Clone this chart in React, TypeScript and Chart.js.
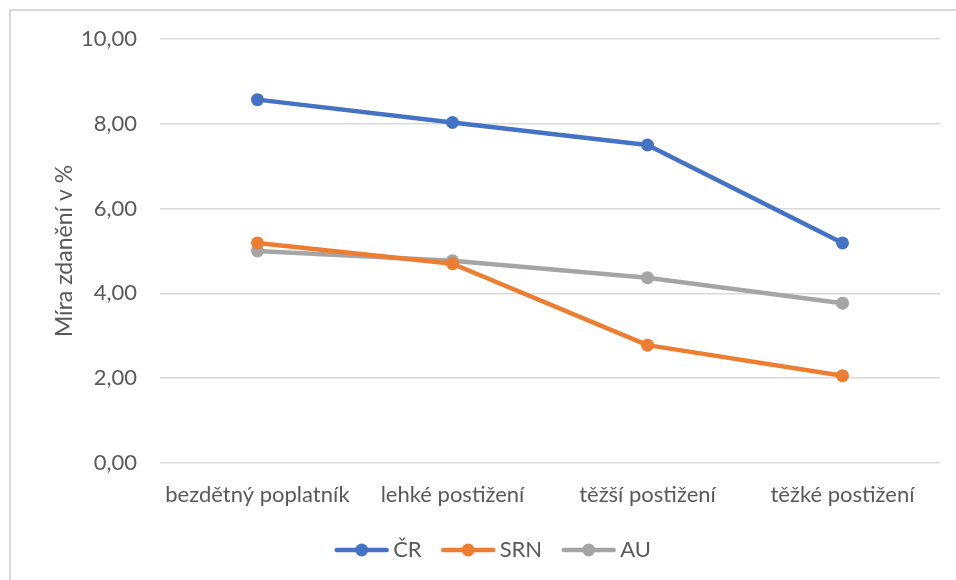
import React, { useEffect, useRef } from "react";
import { Chart, registerables } from "chart.js";

Chart.register(...registerables);

const categories = ["bezdětný poplatník", "lehké postižení", "těžší postižení", "těžké postižení"];
const seriesNames = ["ČR", "SRN", "AU"];
const crValues = [8.57, 8.03, 7.5, 5.19];
const srnValues = [5.19, 4.7, 2.78, 2.06];
const auValues = [5.0, 4.77, 4.37, 3.77];
const seriesColors = ["#4472C4", "#ED7D31", "#A5A5A5"];
const yTicks = [0, 2, 4, 6, 8, 10];
const yTitle = "Míra zdanění v %";

const FONT = "Lato, 'Open Sans', sans-serif";
const TEXT = "#595959";

function legendIcon(color: string): HTMLCanvasElement {
  const c = document.createElement("canvas");
  c.width = 56;
  c.height = 16;
  const ctx = c.getContext("2d")!;
  ctx.strokeStyle = color;
  ctx.lineWidth = 4.5;
  ctx.lineCap = "round";
  ctx.beginPath();
  ctx.moveTo(3, 8);
  ctx.lineTo(53, 8);
  ctx.stroke();
  ctx.fillStyle = color;
  ctx.beginPath();
  ctx.arc(28, 8, 6.5, 0, Math.PI * 2);
  ctx.fill();
  return c;
}

const borderPlugin = {
  id: "outerBorder",
  afterLayout(chart: any) {
    const lg = chart.legend;
    if (lg) {
      lg.left += 21;
      lg.right += 21;
      lg.top -= 7;
      lg.bottom -= 7;
    }
  },
  beforeDraw(chart: any) {
    const ctx = chart.ctx;
    ctx.save();
    ctx.fillStyle = "#ffffff";
    ctx.fillRect(0, 0, chart.width, chart.height);
    ctx.strokeStyle = "#d9d9d9";
    ctx.lineWidth = 2;
    ctx.beginPath();
    ctx.moveTo(10, chart.height);
    ctx.lineTo(10, 10);
    ctx.lineTo(chart.width, 10);
    ctx.stroke();
    ctx.restore();
  },
};

export default function App() {
  const ref = useRef<HTMLCanvasElement>(null);
  useEffect(() => {
    if (!ref.current) return;
    const values = [crValues, srnValues, auValues];
    const icons = seriesColors.map(legendIcon);
    const chart = new Chart(ref.current, {
      type: "line",
      data: {
        labels: categories,
        datasets: seriesNames.map((name, i) => ({
          label: name,
          data: values[i],
          borderColor: seriesColors[i],
          backgroundColor: seriesColors[i],
          borderWidth: 4.5,
          pointRadius: 6.5,
          pointHoverRadius: 6.5,
          pointBorderWidth: 0,
          pointStyle: "circle",
          borderCapStyle: "round" as const,
          borderJoinStyle: "round" as const,
          tension: 0,
          fill: false,
        })),
      },
      options: {
        responsive: false,
        animation: false,
        layout: { padding: { left: 10, right: 16, top: 39, bottom: 2 } },
        plugins: {
          legend: {
            position: "bottom",
            labels: {
              usePointStyle: true,
              pointStyleWidth: 41,
              padding: 26,
              color: TEXT,
              font: { family: FONT, size: 22 },
              generateLabels: (ch: any) =>
                ch.data.datasets.map((ds: any, i: number) => ({
                  text: ds.label,
                  pointStyle: icons[i],
                  fillStyle: seriesColors[i],
                  strokeStyle: seriesColors[i],
                  lineWidth: 0,
                  hidden: false,
                  datasetIndex: i,
                  fontColor: TEXT,
                })),
            },
          },
          tooltip: { enabled: false },
        },
        scales: {
          x: {
            offset: true,
            grid: { display: false, drawTicks: false },
            border: { display: false },
            ticks: { color: TEXT, font: { family: FONT, size: 22 }, padding: 19, maxRotation: 0, autoSkip: false },
            afterFit: (s: any) => {
              s.height = 57;
            },
          },
          y: {
            min: 0,
            max: 10,
            afterBuildTicks: (s: any) => {
              s.ticks = yTicks.map((v) => ({ value: v }));
            },
            grid: { color: "#d9d9d9", lineWidth: 1.5, drawTicks: false },
            border: { display: false },
            ticks: {
              color: TEXT,
              font: { family: FONT, size: 22 },
              padding: 23,
              callback: (v: any) => Number(v).toFixed(2).replace(".", ","),
            },
            title: {
              display: true,
              text: yTitle,
              color: TEXT,
              font: { family: FONT, size: 23 },
              padding: { top: 41, bottom: 0 },
            },
            afterFit: (s: any) => {
              s.width = 150;
            },
          },
        },
      },
      plugins: [borderPlugin],
    });
    return () => chart.destroy();
  }, []);
  return (
    <div style={{ position: "fixed", left: 0, top: 0, width: 956, height: 580, background: "#fff" }}>
      <canvas ref={ref} width={956} height={580} style={{ display: "block" }} />
    </div>
  );
}
